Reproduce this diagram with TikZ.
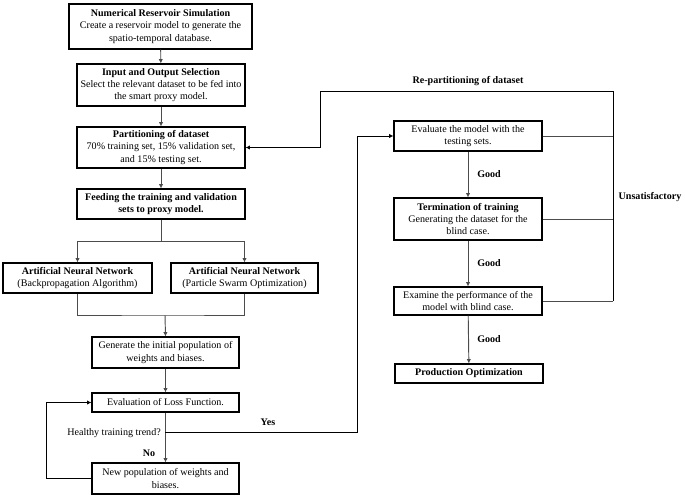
\documentclass[tikz,border=0pt]{standalone}
\usepackage{fontspec}
\setmainfont{Liberation Serif}
\usetikzlibrary{arrows.meta}

\tikzset{
  box/.style={draw, line width=0.9pt, align=center, inner sep=1pt,
    font=\fontsize{8.6}{10.4}\selectfont},
  flow/.style={draw=black!70, line width=0.8pt},
  back/.style={draw=black, line width=0.8pt},
  tip/.style={-{Latex[length=1.3mm,width=1.3mm]}},
  lbl/.style={font=\fontsize{8.6}{10}\selectfont\bfseries, inner sep=0pt},
}

\begin{document}
\begin{tikzpicture}[x=0.03cm, y=-0.03cm]
            \useasboundingbox (0,0) rectangle (685,497);
            % left column
            \node[box, minimum width=5.49cm, minimum height=1.35cm] (sim) at (160.5,26.5)
                {\textbf{Numerical Reservoir Simulation}\\Create a reservoir model to generate the\\spatio-temporal database.};
            \node[box, minimum width=5.04cm, minimum height=1.26cm] (sel) at (161,85)
                {\textbf{Input and Output Selection}\\Select the relevant dataset to be fed into\\the smart proxy model.};
            \node[box, minimum width=5.04cm, minimum height=1.23cm] (part) at (161,147.5)
                {\textbf{Partitioning of dataset}\\70\% training set, 15\% validation set,\\and 15\% testing set.};
            \node[box, minimum width=5.04cm, minimum height=0.9cm] (feed) at (161,204)
                {\textbf{Feeding the training and validation}\\\textbf{sets to proxy model.}};
            \node[box, minimum width=4.47cm, minimum height=0.9cm] (bp) at (77.5,278)
                {\textbf{Artificial Neural Network}\\(Backpropagation Algorithm)};
            \node[box, minimum width=4.41cm, minimum height=0.9cm] (pso) at (244.5,278)
                {\textbf{Artificial Neural Network}\\(Particle Swarm Optimization)};
            \node[box, minimum width=4.41cm, minimum height=0.93cm] (init) at (165.5,352.5)
                {Generate the initial population of\\weights and biases.};
            \node[box, minimum width=4.41cm, minimum height=0.57cm] (loss) at (165.5,402.5)
                {Evaluation of Loss Function.};
            \node[box, minimum width=4.41cm, minimum height=0.93cm] (newpop) at (165.5,478.5)
                {New population of weights and\\biases.};
            % right column
            \node[box, minimum width=4.44cm, minimum height=0.9cm] (test) at (468,136)
                {Evaluate the model with the\\testing sets.};
            \node[box, minimum width=4.44cm, minimum height=1.26cm] (term) at (468,219)
                {\textbf{Termination of training}\\Generating the dataset for the\\blind case.};
            \node[box, minimum width=4.44cm, minimum height=0.84cm] (exam) at (468,301)
                {Examine the performance of the\\model with blind case.};
            \node[box, minimum width=4.44cm, minimum height=0.57cm] (prod) at (469,373.5)
                {\textbf{Production Optimization}};

            \coordinate (split) at (161,241);
            \coordinate (join) at (165,315);
            \coordinate (yes) at (165,432);
            \coordinate (ybend) at (357,432);
            \coordinate (ubus) at (613,91);
            \coordinate (rbend) at (320,91);

            \draw[flow, tip] (sim) -- (sel);
            \draw[flow, tip] (sel) -- (part);
            \draw[flow, tip] (part) -- (feed);
            \draw[flow] (feed) -- (split);
            \draw[flow, tip] (split) -| (bp.north);
            \draw[flow, tip] (split) -| (pso.north);
            \draw[flow] (bp.south) |- (join) -| (pso.south);
            \draw[flow, tip] (join) -- (init.north);
            \draw[flow, tip] (init) -- (loss);
            \draw[flow, tip] (loss.south) -- (newpop.north);
            \draw[back, tip] (newpop.west) -- ++(-45,0) |- (loss.west);
            \draw[back, tip] (yes) -- (ybend) |- (test.west);

            \draw[flow, tip] (test) -- (term);
            \draw[flow, tip] (term) -- (exam);
            \draw[flow, tip] (exam) -- (prod);
            \draw[flow] (test.east) -- (test.east -| ubus);
            \draw[flow] (term.east) -- (term.east -| ubus);
            \draw[flow] (exam.east) -- (exam.east -| ubus);
            \draw[back] (exam.east -| ubus) -- (ubus);
            \draw[back, tip] (ubus) -- (rbend) |- (part.east);

            \node[lbl] at (468,81) {Re-partitioning of dataset};
            \node[lbl] at (650,197) {Unsatisfactory};
            \node[lbl] at (489,174) {Good};
            \node[lbl] at (489,263) {Good};
            \node[lbl] at (489,339) {Good};
            \node[lbl] at (268,422) {Yes};
            \node[lbl] at (149,453) {No};
            \node[font=\fontsize{8.6}{10}\selectfont, inner sep=0pt, anchor=east] at (161,433) {Healthy training trend?};
        \end{tikzpicture}
\end{document}
